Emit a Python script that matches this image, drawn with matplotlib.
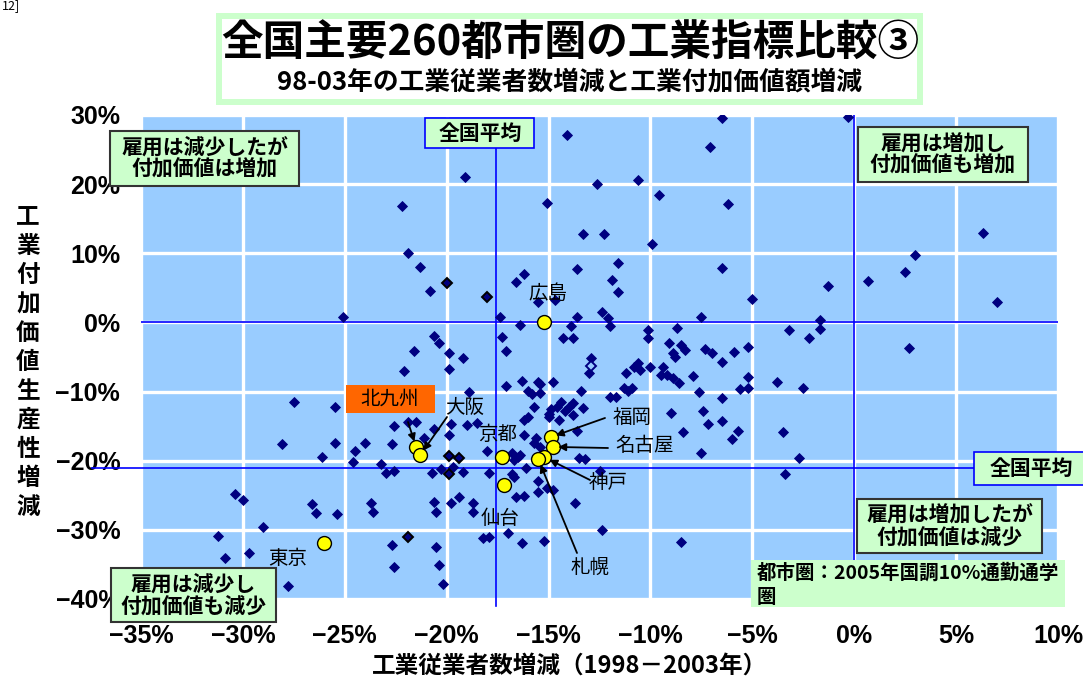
import matplotlib
matplotlib.use('Agg')
import matplotlib.pyplot as plt
from matplotlib.patches import Rectangle

plt.rcParams['font.family'] = ['Noto Sans CJK JP', 'DejaVu Sans']
NARROW = ['Liberation Sans Narrow', 'Liberation Sans', 'DejaVu Sans']

# 工業従業者数増減 (%, 1998-2003) for each 都市圏
emp_change = [
    -19.1, -22.2, -21.9, -21.3, -20.8, -16.6, -16.2, -15.5, -15.1, -25.1,
    -17.4, -16.4, -6.5, -0.3, -14.1, -7.1, -12.6, -10.6, -9.6, -6.2,
    -13.3, -12.3, -9.9, 6.3, -13.6, -11.6, -11.9, -11.6, -6.5, 3.0,
    2.5, 0.7, -1.3, -5.0, 7.0, -13.6, -13.9, -12.4, -12.1, -12.0,
    -7.5, -8.7, -10.1, -3.2, -1.7, -1.7, -14.7, -20.6, -20.4, -21.6,
    -19.9, -19.2, -22.1, -19.9, -17.3, -17.1, -17.1, -16.3, -16.0, -15.8,
    -15.5, -15.4, -15.4, -14.8, -18.9, -15.7, -16.2, -16.0, -15.0, -15.0,
    -14.6, -20.6, -21.5, -21.9, -19.8, -19.0, -18.5, -19.9, -21.1, -18.0,
    -16.2, -15.7, -15.4, -15.6, -20.3, -19.7, -19.2, -17.9, -16.8, -16.5,
    -16.7, -16.4, -16.1, -27.5, -25.5, -22.6, -28.1, -25.5, -24.0, -22.7,
    -24.5, -24.6, -26.1, -23.2, -23.0, -22.6, -20.7, -16.8, -16.7, -15.5,
    -16.6, -16.2, -15.5, -15.1, -14.8, -30.4, -30.0, -26.6, -26.4, -25.4,
    -23.7, -23.6, -20.6, -20.5, -19.8, -19.4, -18.7, -18.7, -29.0, -31.2,
    -30.9, -29.7, -27.8, -22.7, -22.6, -20.5, -20.4, -20.2, -18.2, -17.9,
    -17.0, -16.3, -15.2, -13.7, -12.4, -8.5, -12.5, -13.5, -13.2, -14.3,
    -13.8, -10.1, -9.1, -8.5, -8.3, -8.8, -8.9, -12.9, -13.0, -10.6,
    -10.5, -10.8, -10.0, -9.4, -9.5, -9.2, -8.9, -8.6, -7.9, -11.2,
    -11.3, -11.1, -10.9, -13.4, -12.0, -11.7, -7.6, -14.4, -13.8, -14.0,
    -14.9, -14.2, -13.8, -13.3, -13.6, -14.5, -9.0, -8.4, -2.2, -7.3,
    -7.0, -6.5, -5.9, -5.2, -6.5, -5.2, -5.6, -5.2, -3.8, -2.5,
    -7.4, -7.2, -6.5, -5.7, -6.0, -3.5, -7.5, -2.7, -3.4, 2.7,
]
# 工業付加価値生産性増減 (%)
va_change = [
    21.0, 16.8, 10.0, 8.0, 4.5, 5.8, 7.0, 3.0, 17.3, 0.8,
    0.8, -0.4, 29.6, 29.7, 27.1, 25.4, 20.0, 20.6, 18.4, 17.1,
    12.8, 12.8, 11.3, 12.9, 7.7, 8.6, 6.1, 4.4, 7.9, 9.8,
    7.3, 6.0, 5.3, 3.4, 3.0, 0.8, -0.5, 1.5, 0.6, -0.5,
    0.8, -0.8, -1.1, -1.1, 0.3, -1.0, 3.2, -2.0, -3.0, -4.1,
    -4.4, -5.2, -7.0, -6.7, -2.1, -4.1, -9.2, -8.5, -9.9, -10.4,
    -8.6, -8.9, -10.2, -8.6, -10.1, -12.2, -14.1, -13.7, -13.7, -13.3,
    -12.2, -15.4, -14.4, -14.4, -14.7, -14.8, -14.6, -16.3, -16.7, -18.6,
    -16.3, -17.5, -18.0, -16.7, -21.2, -20.9, -21.6, -21.8, -18.9, -19.5,
    -19.9, -19.2, -21.0, -11.5, -12.2, -15.0, -17.6, -17.5, -17.5, -17.6,
    -18.6, -20.2, -19.5, -20.5, -21.8, -21.5, -21.8, -21.9, -22.4, -24.5,
    -25.3, -25.1, -23.0, -24.0, -24.3, -24.8, -25.7, -26.3, -27.6, -27.7,
    -26.1, -27.4, -26.0, -27.4, -26.1, -25.3, -26.1, -27.4, -29.6, -30.9,
    -34.0, -33.4, -38.1, -32.2, -35.3, -32.5, -35.1, -37.9, -31.2, -31.0,
    -30.5, -31.9, -31.6, -26.1, -30.0, -31.8, -21.5, -19.6, -19.8, -2.3,
    -2.3, -2.3, -3.0, -3.3, -4.0, -5.0, -4.4, -5.2, -7.3, -5.9,
    -6.9, -6.4, -6.4, -6.4, -7.6, -7.6, -8.0, -8.8, -7.8, -7.3,
    -9.5, -9.9, -9.5, -9.9, -10.8, -10.8, -10.0, -11.5, -11.7, -12.2,
    -12.5, -12.8, -13.4, -12.4, -15.7, -14.1, -13.1, -15.9, -2.3, -3.8,
    -4.4, -5.7, -4.3, -3.6, -10.9, -7.9, -9.6, -9.5, -8.6, -9.5,
    -12.8, -14.7, -14.3, -15.7, -16.8, -15.9, -18.9, -19.6, -21.9, -3.7,
]
# points drawn with a black outline
emp_outlined = [-20.0, -18.0, -19.9, -19.4, -19.9, -21.9]
va_outlined = [5.7, 3.7, -19.3, -19.6, -21.9, -31.1]
# open marker
emp_open = [-12.9]
va_open = [-6.3]

cities = ['広島', '北九州', '大阪', '京都', '仙台', '東京', '福岡', '名古屋', '神戸', '札幌']
city_emp = [-15.2, -21.5, -21.3, -17.3, -17.2, -26.0, -14.9, -14.8, -15.2, -15.5]
city_va = [0.0, -18.0, -19.2, -19.5, -23.5, -31.9, -16.6, -18.0, -19.5, -19.8]

avg_emp = -17.6   # 全国平均
avg_va = -21.1

x_ticks = [-35, -30, -25, -20, -15, -10, -5, 0, 5, 10]
y_ticks = [-40, -30, -20, -10, 0, 10, 20, 30]

W, H = 1083, 680
fig = plt.figure(figsize=(W / 100, H / 100), dpi=100)


def fx(x):
    return x / W


def fy(y):
    return 1 - y / H


def rect(x0, y0, x1, y1, fc, ec='none', lw=0, z=5):
    r = Rectangle((fx(x0), fy(y1)), fx(x1 - x0), (y1 - y0) / H,
                  transform=fig.transFigure, fc=fc, ec=ec, lw=lw, zorder=z)
    fig.add_artist(r)


def text(x, y, s, size, weight='bold', ha='center', va='center', ls=1.0, **kw):
    fig.text(fx(x), fy(y), s, fontsize=size, fontweight=weight, ha=ha, va=va,
             linespacing=ls, zorder=10, **kw)


ax = fig.add_axes([fx(141), fy(599), (1058 - 141) / W, (599 - 115) / H])
ax.set_facecolor('#99CCFF')
ax.set_xlim(-35, 10)
ax.set_ylim(-40, 30)
ax.set_xticks(x_ticks)
ax.set_yticks(y_ticks)
ax.grid(color='white', lw=2.4)
ax.set_axisbelow(True)
for s in ax.spines.values():
    s.set_visible(False)
ax.tick_params(length=0)
ax.tick_params(axis='x', pad=18)
ax.tick_params(axis='y', pad=15)
ax.set_xticklabels([f'{v}%'.replace('-', '−') for v in x_ticks],
                   fontfamily=NARROW, fontweight='bold', fontsize=18)
ax.set_yticklabels([f'{v}%'.replace('-', '−') for v in y_ticks],
                   fontfamily=NARROW, fontweight='bold', fontsize=18)

# zero lines and national averages
ax.axhline(0, color='#0000FF', lw=1.2, zorder=2)
ax.axvline(0, color='#0000FF', lw=1.2, zorder=2)
ax.plot([avg_emp, avg_emp], [-41, 25.2], color='#0000FF', lw=1.2,
        clip_on=False, zorder=2)
ax.plot([-37.4, 5.9], [avg_va, avg_va], color='#0000FF', lw=1.2,
        clip_on=False, zorder=2)

ax.plot(emp_change, va_change, 'D', color='#000080', ms=4.6, mew=0.6, zorder=3)
ax.plot(emp_outlined, va_outlined, 'D', mfc='#000080', mec='black', ms=4.6,
        mew=1.4, zorder=3)
ax.plot(emp_open, va_open, 'D', mfc='#99CCFF', mec='#000080', ms=4.6,
        mew=1.4, zorder=3)
ax.plot(city_emp, city_va, 'o', mfc='#FFFF00', mec='black', ms=10, mew=1.0,
        zorder=4)

# arrows from labels to the city markers (tail in figure pixels)
arrow_tails = {'北九州': (408, 422), '大阪': (447, 417), '福岡': (605, 418),
               '名古屋': (608, 448), '神戸': (590, 480), '札幌': (577, 553)}
for name, (tx, ty) in arrow_tails.items():
    i = cities.index(name)
    ax.annotate('', xy=(city_emp[i], city_va[i]), xytext=(tx, H - ty),
                textcoords='figure pixels',
                arrowprops=dict(arrowstyle='-|>', color='black', lw=1.3,
                                mutation_scale=11, shrinkA=0, shrinkB=4),
                zorder=6)

city_labels = {'広島': (548, 293), '大阪': (465, 407), '京都': (498, 435),
               '仙台': (500, 519), '東京': (288, 559), '福岡': (632, 417),
               '名古屋': (645, 445), '神戸': (608, 483), '札幌': (590, 567)}
for name, (lx, ly) in city_labels.items():
    text(lx, ly, name, 14, weight='normal')

rect(346, 385, 435, 413, '#FF6600')
text(390, 399, '北九州', 14, weight='normal')

# title block
rect(216, 13, 923, 105, '#CCFFCC', z=1)
rect(222, 19, 917, 99, 'white', z=1)
text(570, 44, '全国主要260都市圏の工業指標比較③', 30)
text(570, 82, '98-03年の工業従業者数増減と工業付加価値額増減', 18.5)

# quadrant notes
quads = [((110, 131, 299, 186), '雇用は減少したが\n付加価値は増加'),
         ((858, 127, 1028, 182), '雇用は増加し\n付加価値も増加'),
         ((857, 499, 1042, 553), '雇用は増加したが\n付加価値は減少'),
         ((111, 568, 276, 622), '雇用は減少し\n付加価値も減少')]
for (x0, y0, x1, y1), s in quads:
    rect(x0, y0, x1, y1, '#CCFFCC', ec='#333333', lw=1.5)
    text((x0 + x1) / 2, (y0 + y1) / 2, s, 15, ls=1.05)

rect(425, 118, 534, 148, '#CCFFCC', ec='#0000FF', lw=1.2)
text(480, 133, '全国平均', 15)
rect(974, 452, 1090, 485, '#CCFFCC', ec='#0000FF', lw=1.2)
text(1031, 468, '全国平均', 15)

rect(751, 560, 1065, 607, '#CCFFCC')
text(757, 585, '都市圏：2005年国調10%通勤通学\n圏', 14, ha='left', ls=1.3)

# axis titles
text(28, 362, '\n'.join('工業付加価値生産性増減'), 17, ls=1.26)
text(570, 666, '工業従業者数増減（1998－2003年）', 17)
text(2, 6, '12]', 9, weight='normal', ha='left')

fig.savefig('out.png', dpi=100)
